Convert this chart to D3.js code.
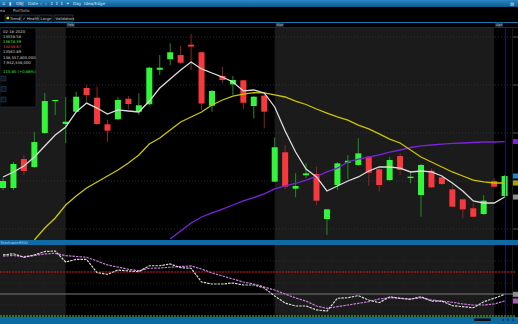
<!DOCTYPE html>
<html>
<head>
<meta charset="utf-8">
<script src="https://cdn.jsdelivr.net/npm/d3@7"></script>
<style>
  body { margin: 0; background: #000; }
  svg { display: block; font-family: 'DejaVu Sans', sans-serif; }
</style>
</head>
<body>
<svg id="chart" width="518" height="324"></svg>
<script>
// candles (price units)
const opens  = [12427,12427,12729,12646,13000,13333,13094,13222,13469,13368,13091,13143,13357,13222,13299,13659,13768,13812,13920,13841,13284,13594,13507,13549,13281,13389,12493,12799,12420,12559,12573,12104,12458,12691,12667,12753,12622,12510,12760,12531,12354,12607,12538,12413,12309,12216,12156,12500,12344];
const highs  = [12531,12698,12771,13010,13417,13344,13375,13430,13500,13482,13135,13375,13385,13414,13690,13812,13934,13906,14031,13845,13448,13691,13594,13552,13385,13424,12955,12875,12580,12684,12649,12208,12698,12771,12945,12760,12635,12753,12788,12597,12677,12632,12562,12458,12312,12268,12354,12528,12562];
const lows   = [12406,12406,12562,12635,12990,13188,12896,13219,13326,13083,12909,13135,13250,13188,13292,13604,13708,13719,13656,13240,13222,13518,13396,13247,13153,13049,12490,12413,12330,12531,12250,11938,12406,12521,12656,12448,12388,12500,12562,12476,12128,12427,12458,12229,12111,12125,12146,12438,12333];
const closes = [12500,12677,12604,12906,13333,13344,13118,13378,13396,13094,13024,13344,13302,13289,13680,13680,13841,13732,13900,13307,13438,13552,13552,13315,13378,13222,12851,12441,12448,12580,12295,12205,12684,12711,12788,12586,12458,12719,12615,12545,12667,12434,12469,12233,12205,12128,12295,12441,12552];

// moving averages (null = off chart)
const fastMA = [12542,12594,12656,12750,12865,12979,13063,13219,13312,13260,13198,13240,13229,13219,13333,13469,13562,13656,13740,13667,13625,13583,13531,13438,13448,13417,13271,13021,12802,12625,12542,12396,12448,12500,12542,12604,12646,12646,12635,12594,12604,12594,12552,12479,12396,12292,12271,12271,12333];
const midMA = [null,null,null,11885,12010,12115,12250,12344,12427,12490,12552,12615,12688,12771,12885,12948,13031,13115,13167,13219,13292,13344,13385,13406,13420,13417,13396,13375,13333,13297,13250,13208,13167,13135,13083,13042,12990,12937,12896,12823,12750,12698,12646,12594,12552,12510,12490,12479,12479];
const slowMA = [null,null,null,null,null,null,null,null,null,null,null,null,null,null,null,null,11896,11979,12062,12125,12167,12208,12250,12292,12328,12365,12417,12448,12474,12510,12547,12594,12635,12698,12729,12750,12771,12802,12823,12849,12865,12875,12885,12891,12896,12901,12906,12906,12911];

// oscillator
const kLine = [85.5,86.6,83.4,85.5,88.6,89.1,79.1,81.5,81.5,69.4,67.9,71.8,70.9,70.3,75.7,75.7,77.3,73.9,73.4,60.9,59.1,59.1,60,58.2,58.2,55.5,48.2,41.8,39.1,39.1,35.5,34.5,46.1,46.6,48.5,44.5,42.1,47.5,46.1,45.2,47.5,43.6,43.6,39.4,38.5,37.5,43,46.1,49.7];
const dLine = [84.5,85,83.9,85,86.4,87,84.8,84.1,83.4,80,76.4,74.5,72.5,71.2,73.4,73.6,74.3,75,75.5,72.7,69.1,66.4,63.6,60.9,59.1,56.4,53.6,50,46.4,43.6,39.1,37,38.5,40,41.5,43,45.5,46.6,46.1,45.5,46.6,44.5,43.6,42.5,40.9,40,40,40.9,43.6];

const monthLabels = ['Feb', 'Mar', 'Apr'];
const monthStarts = [6, 26, 47];
const priceTicks = [14000, 13500, 13000, 12500, 12000];
const oscGrid = [40, 60, 80];

const infoLines = [
  ['02-18-2020', '#cfcfcf'],
  ['13558.58', '#cfcfcf'],
  ['13678.39', '#3ee83e'],
  ['13238.67', '#f04040'],
  ['13561.89', '#cfcfcf'],
  ['148,557,800,000', '#cfcfcf'],
  ['7,942,338,000', '#cfcfcf'],
];
const toolbarItems = ['≡', '▮', 'OBJ', 'Date', '‹', '‹', '⇕', '⇕', '⇕', '✦', 'Day', 'Idea/Edge'];
const toolbarX = [2, 9, 16, 28, 40, 45, 50, 55, 60, 66, 73, 84];
const tabs = ['Trend', '✓ Health', 'Large', 'Validators'];
const tabX = [5, 21, 39, 54];
const tabW = [15, 17, 13, 19];

const W = 518;
const svg = d3.select('#chart');
const plotTop = 28, plotBottom = 240, oscTop = 245, oscBottom = 317;

const x = d3.scaleLinear().domain([0, 48]).range([3, 504.6]);
const y = d3.scaleLinear().domain([12000, 14000]).range([229, 37]);
const yo = d3.scaleLinear().domain([30, 70]).range([316, 272]);

// backgrounds
svg.append('rect').attr('width', W).attr('height', 324).attr('fill', '#000');

const shade = [[0, x(monthStarts[0])], [x(monthStarts[1]), x(monthStarts[2])]];
[[plotTop, plotBottom], [oscTop, oscBottom]].forEach(([t, b]) => {
  shade.forEach(([a, e]) => {
    svg.append('rect').attr('x', a).attr('y', t).attr('width', e - a).attr('height', b - t).attr('fill', '#1b1b1b');
  });
});

// top toolbar
const grad = svg.append('defs').append('linearGradient').attr('id', 'bar').attr('x1', 0).attr('x2', 0).attr('y1', 0).attr('y2', 1);
grad.append('stop').attr('offset', 0).attr('stop-color', '#2a86c4');
grad.append('stop').attr('offset', 1).attr('stop-color', '#0f5a8e');
svg.append('rect').attr('width', W).attr('height', 7).attr('fill', 'url(#bar)');
svg.selectAll('.tb').data(toolbarItems).join('text')
  .attr('x', (d, i) => toolbarX[i]).attr('y', 5.2)
  .attr('font-size', 4.2).attr('fill', '#dfe9f2').text(d => d);
svg.append('text').attr('x', 510).attr('y', 5.5).attr('font-size', 5).attr('fill', '#cfd8e0').text('⊠');

svg.append('text').attr('x', 0).attr('y', 12).attr('font-size', 4).attr('fill', '#b8b8b8').text('ea');
svg.append('text').attr('x', 13).attr('y', 12).attr('font-size', 4).attr('fill', '#b8b8b8').text('Portfolio');

// tabs
tabs.forEach((t, i) => {
  svg.append('rect').attr('x', tabX[i]).attr('y', 15).attr('width', tabW[i]).attr('height', 6.5)
    .attr('fill', '#0b0b0b').attr('stroke', '#2d4a63').attr('stroke-width', 0.6);
  svg.append('text').attr('x', tabX[i] + (i === 0 ? 5 : 1.5)).attr('y', 19.6)
    .attr('font-size', 3.8).attr('fill', '#c8c8c8').text(t);
});
svg.append('rect').attr('x', tabX[0] + 1.5).attr('y', 16.8).attr('width', 2.5).attr('height', 2.5).attr('fill', '#e6d000');

svg.append('rect').attr('x', 0).attr('y', 22).attr('width', W).attr('height', 1).attr('fill', '#1a78b4');
svg.append('line').attr('x1', 0).attr('x2', W).attr('y1', 27.5).attr('y2', 27.5).attr('stroke', '#262626');

// month labels
monthLabels.forEach((m, i) => {
  const mx = x(monthStarts[i]);
  svg.append('rect').attr('x', mx + 1).attr('y', 22.8).attr('width', 8).attr('height', 4).attr('fill', '#2b3440');
  svg.append('text').attr('x', mx + 1.8).attr('y', 26).attr('font-size', 3.6).attr('fill', '#a9b6c4').text(m);
});

// grid
svg.selectAll('.pg').data(priceTicks).join('line')
  .attr('x1', 0).attr('x2', 512).attr('y1', d => y(d)).attr('y2', d => y(d))
  .attr('stroke', '#3d3d3d').attr('stroke-dasharray', '1,2').attr('stroke-width', 0.7);
// axis stubs at the cut-off right edge
svg.selectAll('.pt').data(priceTicks).join('line')
  .attr('x1', 513).attr('x2', 518).attr('y1', d => y(d)).attr('y2', d => y(d))
  .attr('stroke', '#6a6a6a').attr('stroke-width', 0.8);

const clip = svg.append('clipPath').attr('id', 'main');
clip.append('rect').attr('x', 0).attr('y', plotTop).attr('width', 512).attr('height', plotBottom - plotTop);
const main = svg.append('g').attr('clip-path', 'url(#main)');

// candles
const idx = d3.range(opens.length);
const up = i => closes[i] >= opens[i];
main.selectAll('.wick').data(idx).join('line')
  .attr('x1', i => x(i)).attr('x2', i => x(i))
  .attr('y1', i => y(highs[i])).attr('y2', i => y(lows[i]))
  .attr('stroke', i => up(i) ? '#1f8c28' : '#8c2222').attr('stroke-width', 1);
main.selectAll('.body').data(idx).join('rect')
  .attr('x', i => x(i) - 3).attr('width', 6)
  .attr('y', i => y(Math.max(opens[i], closes[i])))
  .attr('height', i => Math.max(1.2, Math.abs(y(opens[i]) - y(closes[i]))))
  .attr('fill', i => up(i) ? '#33f53a' : '#f5393c');

// moving averages
const line = d3.line().defined(d => d != null).x((d, i) => x(i)).y(d => y(d));
[[slowMA, '#7a22dc'], [midMA, '#ccc400'], [fastMA, '#dcdcdc']].forEach(([s, c]) => {
  main.append('path').datum(s).attr('d', line).attr('fill', 'none').attr('stroke', c).attr('stroke-width', 1.3);
});

// cursor line
svg.append('line').attr('x1', x(48) + 1).attr('x2', x(48) + 1).attr('y1', plotTop).attr('y2', oscBottom)
  .attr('stroke', '#1a1f8a').attr('stroke-width', 0.8);
svg.append('line').attr('x1', 512.5).attr('x2', 512.5).attr('y1', plotTop).attr('y2', oscBottom)
  .attr('stroke', '#222').attr('stroke-width', 0.8);

// right edge value tags
[[slowMA[48], '#7a22dc'], [closes[48], '#1d86c8'], [midMA[48], '#a8a200'], [fastMA[48], '#8c8c8c']].forEach(([v, c]) => {
  svg.append('rect').attr('x', 513).attr('y', y(v) - 2.5).attr('width', 5).attr('height', 5).attr('fill', c);
});

// info panel
svg.append('rect').attr('x', 0).attr('y', 28).attr('width', 36).attr('height', 79)
  .attr('fill', '#000').attr('stroke', '#1b3347').attr('stroke-width', 0.6);
svg.selectAll('.info').data(infoLines).join('text')
  .attr('x', 3).attr('y', (d, i) => 33 + i * 5.1).attr('font-size', 3.8)
  .attr('fill', d => d[1]).text(d => d[0]);
svg.append('text').attr('x', 3).attr('y', 72.5).attr('font-size', 3.8).attr('fill', '#3ee83e').text('115.85 (+0.86%)');
[76, 86.5, 97].forEach(by => {
  svg.append('rect').attr('x', 1).attr('y', by).attr('width', 5).attr('height', 5)
    .attr('fill', '#0d1620').attr('stroke', '#2a4a66').attr('stroke-width', 0.5);
});

// separator bar
svg.append('rect').attr('x', 0).attr('y', plotBottom).attr('width', W).attr('height', 5).attr('fill', '#0e6aa2');
svg.append('text').attr('x', 0.5).attr('y', 243.8).attr('font-size', 3.6).attr('fill', '#b9d6ea').text('StochasticRSI');
svg.append('text').attr('x', 25).attr('y', 243.8).attr('font-size', 3.6).attr('fill', '#b9d6ea').text('D');

// oscillator panel
svg.selectAll('.og').data(oscGrid).join('line')
  .attr('x1', 0).attr('x2', 512).attr('y1', d => yo(d)).attr('y2', d => yo(d))
  .attr('stroke', '#353535').attr('stroke-dasharray', '1,2').attr('stroke-width', 0.7);
svg.append('line').attr('x1', 0).attr('x2', 515).attr('y1', yo(70)).attr('y2', yo(70))
  .attr('stroke', '#e01515').attr('stroke-width', 1.1).attr('stroke-dasharray', '2,1');
svg.append('line').attr('x1', 0).attr('x2', W).attr('y1', yo(50)).attr('y2', yo(50))
  .attr('stroke', '#7a7a7a').attr('stroke-width', 1);
svg.append('line').attr('x1', 0).attr('x2', 515).attr('y1', yo(30)).attr('y2', yo(30))
  .attr('stroke', '#35d23a').attr('stroke-width', 1.1).attr('stroke-dasharray', '2,1');

const oline = d3.line().x((d, i) => x(i)).y(d => yo(d));
svg.append('path').datum(dLine).attr('d', oline).attr('fill', 'none')
  .attr('stroke', '#c77ad8').attr('stroke-width', 1.2).attr('stroke-dasharray', '2.5,1');
svg.append('path').datum(kLine).attr('d', oline).attr('fill', 'none')
  .attr('stroke', '#d6d6d6').attr('stroke-width', 1.2).attr('stroke-dasharray', '2.5,1');

svg.append('rect').attr('x', 513).attr('y', yo(kLine[48]) - 2.5).attr('width', 5).attr('height', 5).attr('fill', '#8c8c8c');
svg.append('rect').attr('x', 513).attr('y', yo(dLine[48]) - 2.5).attr('width', 5).attr('height', 5).attr('fill', '#a25cb4');

// bottom bar
svg.append('rect').attr('x', 0).attr('y', oscBottom).attr('width', W).attr('height', 7).attr('fill', '#0e6aa2');
svg.append('rect').attr('x', 474).attr('y', 318.5).attr('width', 17).attr('height', 2.5).attr('rx', 1).attr('fill', '#050a10');
[502, 507, 512].forEach(bx => {
  svg.append('rect').attr('x', bx).attr('y', 318.8).attr('width', 2).attr('height', 2).attr('fill', '#0a3a5c');
});
</script>
</body>
</html>
